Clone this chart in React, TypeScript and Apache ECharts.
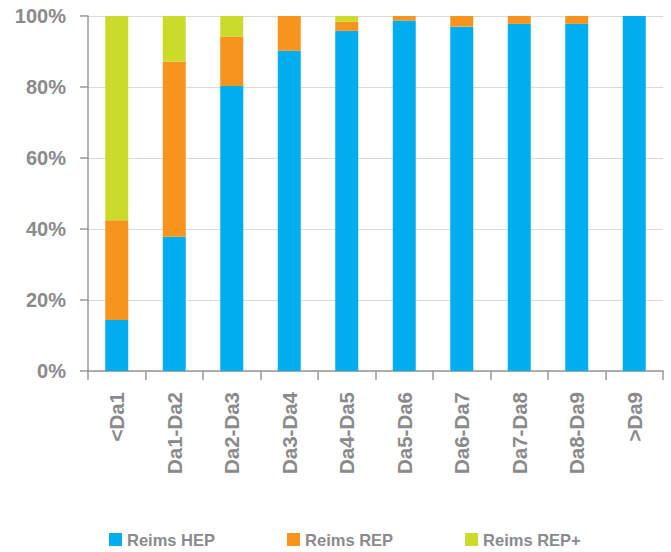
import React, { useEffect, useRef } from "react";
import * as echarts from "echarts";

const categories = ["<Da1", "Da1-Da2", "Da2-Da3", "Da3-Da4", "Da4-Da5", "Da5-Da6", "Da6-Da7", "Da7-Da8", "Da8-Da9", ">Da9"];
const hep = [14.4, 37.8, 80.3, 90.2, 95.8, 98.7, 97.0, 97.8, 97.8, 100];
const rep = [28.1, 49.4, 13.9, 9.8, 2.6, 1.3, 3.0, 2.2, 2.2, 0];
const repPlus = [57.5, 12.8, 5.8, 0, 1.6, 0, 0, 0, 0, 0];
const seriesNames = ["Reims HEP", "Reims REP", "Reims REP+"];
const colors = ["#00AEEF", "#F7941D", "#CBDB2A"];

const FONT = "'Liberation Sans', Arial, sans-serif";
const GREY = "#8a8a8c";

export default function App() {
  const ref = useRef<HTMLDivElement>(null);
  useEffect(() => {
    document.body.style.margin = "0";
    const chart = echarts.init(ref.current!, null, { renderer: "svg" });
    const values = [hep, rep, repPlus];
    chart.setOption({
      animation: false,
      grid: { left: 88, right: 8, top: 16, bottom: 181 },
      legend: {
        top: 531,
        left: 109,
        itemGap: 72,
        itemWidth: 13,
        itemHeight: 13,
        icon: "rect",
        padding: 0,
        textStyle: { color: GREY, fontSize: 16.5, fontWeight: "bold", fontFamily: FONT },
        data: seriesNames,
      },
      xAxis: {
        type: "category",
        data: categories,
        axisLine: { lineStyle: { color: "#999999", width: 1.5 } },
        axisTick: { show: true, length: 9, lineStyle: { color: "#999999", width: 1.5 } },
        axisLabel: {
          rotate: 90,
          margin: 21,
          color: GREY,
          fontSize: 20.5,
          fontWeight: "bold",
          fontFamily: FONT,
          interval: 0,
        },
      },
      yAxis: {
        type: "value",
        min: 0,
        max: 100,
        interval: 20,
        axisLine: { show: true, lineStyle: { color: "#999999", width: 1.5 } },
        axisTick: { show: true, length: 8, lineStyle: { color: "#999999", width: 1.5 } },
        splitLine: { lineStyle: { color: "#d9d9d9", width: 1 } },
        axisLabel: {
          formatter: "{value}%",
          margin: 22,
          color: GREY,
          fontSize: 20,
          fontWeight: "bold",
          fontFamily: FONT,
        },
      },
      series: seriesNames.map((name, i) => ({
        name,
        type: "bar",
        stack: "total",
        barWidth: "40%",
        data: values[i],
        itemStyle: { color: colors[i] },
      })),
    });
    return () => chart.dispose();
  }, []);
  return <div ref={ref} style={{ width: 671, height: 552, overflow: "hidden" }} />;
}
